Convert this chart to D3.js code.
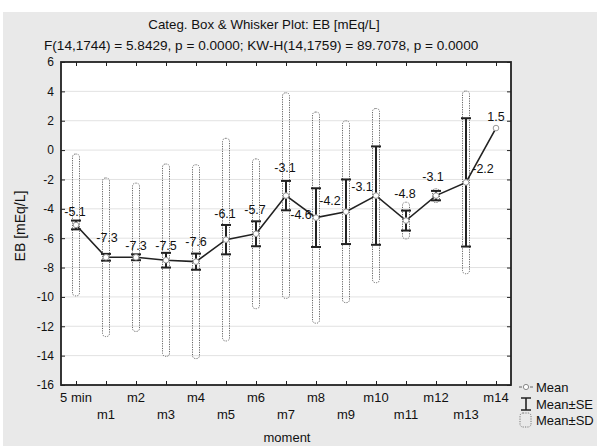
<!DOCTYPE html>
<html><head><meta charset="utf-8">
<script src="https://cdn.jsdelivr.net/npm/d3@7/dist/d3.min.js"></script>
<style>body{margin:0;background:#fff}svg{display:block;font-family:"Liberation Sans",Arial,sans-serif}</style>
</head><body>
<svg id="c" width="597" height="446"></svg>
<script>
// ---- data ----
const categories = ["5 min","m1","m2","m3","m4","m5","m6","m7","m8","m9","m10","m11","m12","m13","m14"];
const means = [-5.1,-7.3,-7.3,-7.5,-7.6,-6.1,-5.7,-3.1,-4.6,-4.2,-3.1,-4.8,-3.1,-2.2,1.5];
const seValues = [0.3,0.23,0.2,0.5,0.55,1.0,0.85,1.0,2.0,2.2,3.35,0.68,0.32,4.37,null];
const sdValues = [4.83,5.4,5.05,6.55,6.6,6.9,5.1,7.0,7.19,6.19,5.93,1.25,0.47,6.22,null];
const yTicks = [-16,-14,-12,-10,-8,-6,-4,-2,0,2,4,6];
const title = "Categ. Box & Whisker Plot: EB [mEq/L]";
const subtitle = "F(14,1744) = 5.8429, p = 0.0000; KW-H(14,1759) = 89.7078, p = 0.0000";
const xTitle = "moment";
const yTitle = "EB [mEq/L]";
const legendItems = ["Mean","Mean\u00b1SE","Mean\u00b1SD"];

// ---- layout (label placement relative to each mean point) ----
const labelDx = [-1,1,0,0,0,-1,-1,-1,-15,-16,-14,-1,-3,17,0];
const labelDy = [-13,-20,-12,-15,-20,-26,-24,-28,-3,-11,-9,-27,-19,-14,-12];

const svg = d3.select("#c");
const W = 597, H = 446;
const L = 61, R = 511, T = 62, B = 385;

svg.append("rect").attr("x",0).attr("y",0).attr("width",W).attr("height",H).attr("fill","#fff");
svg.append("rect").attr("x",3).attr("y",12).attr("width",W-3).attr("height",H-12).attr("fill","#e9e9e9");
svg.append("rect").attr("x",L).attr("y",T).attr("width",R-L).attr("height",B-T).attr("fill","#fff");

const x = d3.scalePoint().domain(categories).range([L,R]).padding(0.5);
const y = d3.scaleLinear().domain([-16,6]).range([B,T]);

// gridlines
svg.append("g").selectAll("line").data(yTicks.filter(t=>t>-16 && t<6)).join("line")
  .attr("x1",L).attr("x2",R).attr("y1",d=>y(d)).attr("y2",d=>y(d))
  .attr("stroke","#e2e2e2").attr("stroke-width",1);

// axes
const yAxisL = svg.append("g").attr("transform",`translate(${L},0)`)
  .call(d3.axisLeft(y).tickValues(yTicks).tickSize(-4).tickPadding(7).tickFormat(d3.format("d")));
const yAxisR = svg.append("g").attr("transform",`translate(${R},0)`)
  .call(d3.axisRight(y).tickValues(yTicks).tickSize(-4).tickFormat(""));
const xAxisT = svg.append("g").attr("transform",`translate(0,${T})`)
  .call(d3.axisTop(x).tickSize(-4).tickFormat(""));
const xAxisB = svg.append("g").attr("transform",`translate(0,${B})`)
  .call(d3.axisBottom(x).tickSize(-4).tickFormat(""));
[yAxisL,yAxisR,xAxisT,xAxisB].forEach(g=>{
  g.select(".domain").remove();
  g.selectAll(".tick line").attr("stroke","#222").attr("stroke-width",1);
});
yAxisL.selectAll("text").attr("font-size",12).attr("fill","#111")
  .attr("font-family","Liberation Sans, Arial, sans-serif").text(d=>d3.format("d")(d).replace("\u2212","-"));

// x labels staggered
svg.append("g").selectAll("text").data(categories).join("text")
  .attr("x",d=>x(d)).attr("y",(d,i)=> i%2===0 ? 402 : 419)
  .attr("text-anchor","middle").attr("font-size",13).attr("fill","#111").text(d=>d);

// frame
svg.append("rect").attr("x",L).attr("y",T).attr("width",R-L).attr("height",B-T)
  .attr("fill","none").attr("stroke","#222").attr("stroke-width",1.8);

// SD boxes
const idx = d3.range(categories.length);
svg.append("g").selectAll("rect").data(idx.filter(i=>sdValues[i]!=null)).join("rect")
  .attr("x",i=>x(categories[i])-3.5).attr("width",7)
  .attr("y",i=>y(means[i]+sdValues[i])).attr("height",i=>y(means[i]-sdValues[i])-y(means[i]+sdValues[i]))
  .attr("rx",3).attr("fill","none").attr("stroke","#666").attr("stroke-width",1)
  .attr("stroke-dasharray","1.2,1.2");

// SE whiskers
const seG = svg.append("g").selectAll("g").data(idx.filter(i=>seValues[i]!=null)).join("g");
seG.append("line").attr("x1",i=>x(categories[i])).attr("x2",i=>x(categories[i]))
  .attr("y1",i=>y(means[i]+seValues[i])).attr("y2",i=>y(means[i]-seValues[i]))
  .attr("stroke","#222").attr("stroke-width",2);
seG.append("line").attr("x1",i=>x(categories[i])-5).attr("x2",i=>x(categories[i])+5)
  .attr("y1",i=>y(means[i]+seValues[i])).attr("y2",i=>y(means[i]+seValues[i]))
  .attr("stroke","#222").attr("stroke-width",2);
seG.append("line").attr("x1",i=>x(categories[i])-5).attr("x2",i=>x(categories[i])+5)
  .attr("y1",i=>y(means[i]-seValues[i])).attr("y2",i=>y(means[i]-seValues[i]))
  .attr("stroke","#222").attr("stroke-width",2);

// mean line
svg.append("path").datum(idx)
  .attr("d",d3.line().x(i=>x(categories[i])).y(i=>y(means[i])))
  .attr("fill","none").attr("stroke","#222").attr("stroke-width",1.6);

// mean markers
svg.append("g").selectAll("circle").data(idx).join("circle")
  .attr("cx",i=>x(categories[i])).attr("cy",i=>y(means[i])).attr("r",2.8)
  .attr("fill","#fff").attr("stroke","#999").attr("stroke-width",1);

// value labels
svg.append("g").selectAll("text").data(idx).join("text")
  .attr("x",i=>x(categories[i])+labelDx[i]).attr("y",i=>y(means[i])+labelDy[i]+4.5)
  .attr("text-anchor","middle").attr("font-size",12.5).attr("fill","#111")
  .text(i=>d3.format(".1f")(means[i]).replace("\u2212","-"));

// titles
svg.append("text").attr("x",264).attr("y",29).attr("text-anchor","middle")
  .attr("font-size",13.3).attr("fill","#111").text(title);
svg.append("text").attr("x",44).attr("y",50).attr("text-anchor","start")
  .attr("font-size",13.6).attr("fill","#111").text(subtitle);
svg.append("text").attr("x",287).attr("y",442).attr("text-anchor","middle")
  .attr("font-size",13).attr("fill","#111").text(xTitle);
svg.append("text").attr("transform","translate(25,226) rotate(-90)").attr("text-anchor","middle")
  .attr("font-size",14).attr("fill","#111").text(yTitle);

// legend
const lg = svg.append("g");
const ly = [387,404,420];
lg.append("line").attr("x1",519).attr("x2",533).attr("y1",ly[0]).attr("y2",ly[0])
  .attr("stroke","#666").attr("stroke-width",1).attr("stroke-dasharray","3,8,3");
lg.append("circle").attr("cx",526).attr("cy",ly[0]).attr("r",2.6).attr("fill","#fff").attr("stroke","#888");
lg.append("path").attr("d",`M521,${ly[1]-6}H531M526,${ly[1]-6}V${ly[1]+6}M521,${ly[1]+6}H531`)
  .attr("stroke","#222").attr("stroke-width",1.6).attr("fill","none");
lg.append("rect").attr("x",520).attr("y",ly[2]-7).attr("width",11).attr("height",14).attr("rx",3)
  .attr("fill","none").attr("stroke","#777").attr("stroke-dasharray","1.2,1.2");
lg.selectAll("text").data(legendItems).join("text")
  .attr("x",536).attr("y",(d,i)=>ly[i]+4.5).attr("font-size",13).attr("fill","#111").text(d=>d);
</script>
</body></html>
